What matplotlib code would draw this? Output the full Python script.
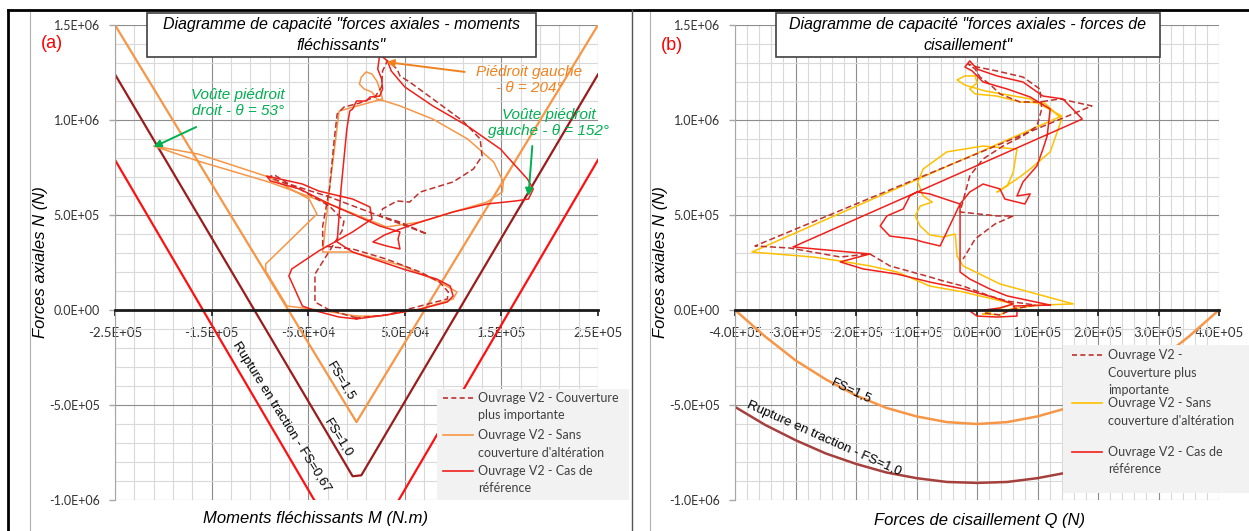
import numpy as np
import matplotlib
matplotlib.use("Agg")
import matplotlib.pyplot as plt
import matplotlib.ticker as mticker
from matplotlib.patches import Rectangle

plt.rcParams['font.family'] = ['Lato', 'DejaVu Sans']

# ---------------- (a) forces axiales - moments flechissants (kN.m, kN) ----------------
m_fs067 = [-250, 0, 250]
n_fs067 = [790, -1380, 790]
m_fs10 = [-250, -4, 5, 250]
n_fs10 = [1240, -875, -870, 1240]
m_fs15 = [-250, 0, 250]
n_fs15 = [1500, -590, 1500]

# Ouvrage V2 - Sans couverture d'alteration
m_sans = [0, 24, 66, 100, 104, 86, 48, -4, -35, -28, -18, 27, 24, 21, 16, 10, 5, 3, 8, 16,
          21, 29, 45, 79, 115, 142, 152, 151, 135, 100, 66, 31, -28, -91, -164, -210, -164, -91, -49, -41,
          -94, -94, -72, -39, 0]
n_sans = [-32, -32, 5, 58, 95, 147, 232, 305, 305, 637, 1047, 1111, 1163, 1205, 1242, 1253, 1226, 1189, 1163, 1147,
          1111, 1100, 1074, 1005, 900, 779, 674, 621, 568, 516, 463, 437, 558, 674, 784, 863, 821, 700, 584, 505,
          242, 205, 21, 0, -32]

# Ouvrage V2 - Cas de reference
m_ref = [0, -18, -42, -56, -70, -67, -39, -4, 16, 14, -4, -39, -56, -93, -89, -59, -28, 3, 24, 45,
         43, 45, 31, 17, 29, 45, 66, 100, 135, 165, 178, 183, 177, 149, 115, 79, 50, 36, 32, 27,
         24, 22, 26, 27, 24, 14, 10, 0, -4, -7, -10, -16, -20, -4, 48, 83, 97, 100, 94, 66, 31, 0]
n_ref = [-47, -37, -5, 21, 179, 216, 311, 411, 479, 542, 584, 626, 663, 705, 679, 637, 558, 489, 442, 411,
         374, 321, 337, 358, 395, 426, 463, 516, 558, 574, 584, 637, 689, 847, 968, 1074, 1174, 1258, 1311, 1332,
         1342, 1268, 1216, 1163, 1126, 1121, 1100, 1100, 1058, 1047, 953, 637, 358, 305, 216, 163, 126, 74, 42, 5,
         -26, -47]

# Ouvrage V2 - Couverture plus importante
m_couv = [0, -28, -43, -43, -15, -13, -28, -59, -91, -85, -70, -28, 73, 45, 24, 27, 42, 55, 66, 100,
          121, 130, 128, 110, 79, 55, 45, 42, 36, 32, 27, 26, 19, 3, -13, -20, -23, -28, -35, -35,
          -4, 31, 66, 86, 95, 94, 66, 31, 0]
n_couv = [-42, 0, 42, 189, 416, 468, 547, 637, 700, 711, 663, 595, 400, 463, 495, 532, 574, 568, 621, 674,
          742, 810, 900, 995, 1111, 1200, 1232, 1268, 1295, 1311, 1258, 1174, 1121, 1089, 1068, 1032, 900, 637, 442, 337,
          321, 268, 200, 147, 95, 58, 21, -26, -42]

# ---------------- (b) forces axiales - forces de cisaillement (kN, kN) ----------------
q_curve = [-400, -350, -300, -250, -200, -150, -100, -50, 0, 50, 100, 150, 200, 250, 300, 350, 400]
nq_fs15 = [0, -140, -265, -365, -450, -515, -560, -590, -600, -590, -560, -515, -450, -365, -265, -140, 0]
nq_fs10 = [-510, -605, -685, -755, -810, -855, -885, -905, -910, -905, -885, -855, -810, -755, -685, -605, -510]

q_sans = [10, 38, 55, 104, 159, 38, -23, -33, -36, -56, -78, -94, -102, -94, -74, -89, -98, -89, -50, 10,
          66, 60, 50, 33, 66, 88, 121, 140, 112, 71, 33, -3, -12, 0, -3, -20, -33, -20, 13, 88,
          140, -372, -271, -226, -177, -132, -78, -23, 26, 60, 21, 10]
nq_sans = [-21, -26, 5, 26, 32, 137, 232, 284, 400, 384, 395, 442, 495, 547, 568, 600, 674, 742, 832, 863,
           847, 726, 653, 621, 689, 742, 832, 1005, 1089, 1095, 1126, 1137, 1163, 1195, 1232, 1232, 1211, 1184, 1153, 1111,
           1021, 305, 279, 258, 232, 200, 126, 95, 58, 32, -11, -21]

q_ref = [121, 60, 66, 66, 33, 0, -12, 13, 38, 60, 26, -23, -78, -132, -188, -226, -177, -304, 174, 142,
         109, 76, 33, 0, -12, -20, -8, 10, 50, 88, 121, 116, 109, 99, 76, 66, 88, 79, 46, 38,
         10, -12, -28, -61, -89, -106, -144, -160, -149, -122, -111, -99, -78, -53, -28, -28, -28, -12, 21, 50, 121]
nq_ref = [26, 21, -5, -32, -37, -32, -5, 0, 11, 32, 68, 111, 147, 189, 216, 253, 295, 332, 1005, 1111,
          1126, 1200, 1232, 1268, 1311, 1279, 1258, 1200, 1163, 1121, 1058, 916, 847, 758, 674, 600, 611, 558, 584, 637,
          663, 621, 558, 337, 358, 374, 389, 442, 495, 532, 600, 621, 611, 584, 558, 321, 200, 163, 111, 74, 26]

q_couv = [13, 38, 60, 96, 50, 21, -23, -56, -78, -144, -177, -226, -309, -367, 190, 137, 104, 71, 38, 21,
          5, -3, -15, 0, 33, 76, 104, 107, 99, 76, 43, 10, -12, -20, -28, 33, 60, 30, -3, -23]
nq_couv = [-16, -26, 5, 26, 47, 74, 126, 153, 174, 232, 295, 279, 326, 337, 1074, 1111, 1095, 1095, 1137, 1189,
           1226, 1268, 1295, 1279, 1258, 1226, 1163, 1058, 968, 916, 863, 795, 705, 611, 516, 495, 495, 453, 374, 268]

k = 1e3  # kN -> N

c_orange = '#f79646'
c_yellow = '#ffc000'
c_red = '#f0201a'
c_dash = '#c0302c'
c_dark = '#9b1c1c'
c_green = '#00b050'
c_label = '#f0821e'
arial = 'Liberation Sans'

fig = plt.figure(figsize=(12.49, 5.31), dpi=100)
W, H = 1249, 531
ax1 = fig.add_axes([115 / W, 1 - 500 / H, 483 / W, 475 / H])
ax2 = fig.add_axes([735 / W, 1 - 500 / H, 484 / W, 475 / H])


def style(ax, xmin, xmax, xmajor):
    ax.set_xlim(xmin, xmax)
    ax.set_ylim(-1e6, 1.5e6)
    ax.xaxis.set_major_locator(mticker.FixedLocator(xmajor))
    ax.xaxis.set_minor_locator(mticker.FixedLocator(np.arange(xmin, xmax + 1, 2e4)))
    ax.yaxis.set_major_locator(mticker.FixedLocator(np.arange(-1e6, 1.5e6 + 1, 5e5)))
    ax.yaxis.set_minor_locator(mticker.FixedLocator(np.arange(-1e6, 1.5e6 + 1, 1e5)))
    fmt = mticker.FuncFormatter(lambda v, p: f"{v:.1E}")
    ax.xaxis.set_major_formatter(fmt)
    ax.yaxis.set_major_formatter(fmt)
    ax.grid(which='minor', color='#d9d9d9', lw=0.8)
    ax.grid(which='major', color='#8c8c8c', lw=0.8)
    ax.set_axisbelow(True)
    for s in ('top', 'right'):
        ax.spines[s].set_visible(False)
    ax.spines['bottom'].set_position(('data', 0))
    ax.spines['bottom'].set_color('#1a1a1a')
    ax.spines['bottom'].set_linewidth(2)
    ax.spines['bottom'].set_zorder(4)
    ax.spines['left'].set_color('#a6a6a6')
    ax.tick_params(which='minor', length=0)
    ax.tick_params(axis='x', which='major', direction='out', length=4, width=1.2,
                   color='#1a1a1a', pad=8.5, labelsize=9.5, labelcolor='#333333')
    ax.tick_params(axis='y', which='major', direction='out', length=4, width=1,
                   color='#a6a6a6', pad=7, labelsize=9, labelcolor='#333333')
    ax.patch.set_alpha(0)


style(ax1, -2.5e5, 2.5e5, [-2.5e5, -1.5e5, -5e4, 5e4, 1.5e5, 2.5e5])
style(ax2, -4e5, 4e5, np.arange(-4e5, 4e5 + 1, 1e5))

# panel (a)
ax1.plot(np.array(m_fs067) * k, np.array(n_fs067) * k, color='#ff1010', lw=1.6)
ax1.plot(np.array(m_fs10) * k, np.array(n_fs10) * k, color=c_dark, lw=1.6)
ax1.plot(np.array(m_fs15) * k, np.array(n_fs15) * k, color=c_orange, lw=1.6)
ax1.plot(np.array(m_sans) * k, np.array(n_sans) * k, color=c_orange, lw=1.1)
ax1.plot(np.array(m_couv) * k, np.array(n_couv) * k, color=c_dash, lw=1.1, ls=(0, (4, 2)))
ax1.plot(np.array(m_ref) * k, np.array(n_ref) * k, color=c_red, lw=1.1)

ax1.text(-78e3, -563e3, 'Rupture en traction - FS=0,67', rotation=-58, ha='center', va='center',
         rotation_mode='anchor', fontsize=9.5, family=arial)
ax1.text(-19e3, -674e3, 'FS=1,0', rotation=-58, ha='center', va='center',
         rotation_mode='anchor', fontsize=9.5, family=arial)
ax1.text(-16e3, -374e3, 'FS=1,5', rotation=-59, ha='center', va='center',
         rotation_mode='anchor', fontsize=9.5, family=arial)

arrow_g = dict(arrowstyle='-|>', color=c_green, lw=1.4, mutation_scale=11, shrinkA=0, shrinkB=0)
arrow_o = dict(arrowstyle='-|>', color=c_label, lw=1.4, mutation_scale=11, shrinkA=0, shrinkB=0)
ax1.text(-123e3, 1089e3, 'Voûte piédroit\ndroit - θ = 53°', color=c_green, ha='center', va='center',
         fontsize=11, style='italic', family=arial, linespacing=1.2)
ax1.annotate('', xy=(-210e3, 858e3), xytext=(-166e3, 963e3), arrowprops=arrow_g)
ax1.text(179e3, 1210e3, 'Piédroit gauche\n- θ = 204°', color=c_label, ha='center', va='center',
         fontsize=11, style='italic', family=arial, linespacing=1.2)
ax1.annotate('', xy=(31e3, 1305e3), xytext=(112e3, 1253e3), arrowprops=arrow_o)
ax1.text(199e3, 984e3, 'Voûte piédroit\ngauche - θ = 152°', color=c_green, ha='center', va='center',
         fontsize=11, style='italic', family=arial, linespacing=1.2)
ax1.annotate('', xy=(178e3, 600e3), xytext=(182e3, 863e3), arrowprops=arrow_g)

# panel (b)
ax2.plot(np.array(q_curve) * k, np.array(nq_fs15) * k, color=c_orange, lw=1.8)
ax2.plot(np.array(q_curve) * k, np.array(nq_fs10) * k, color='#a5403c', lw=1.8)
ax2.plot(np.array(q_sans) * k, np.array(nq_sans) * k, color=c_yellow, lw=1.1)
ax2.plot(np.array(q_couv) * k, np.array(nq_couv) * k, color=c_dash, lw=1.1, ls=(0, (4, 2)))
ax2.plot(np.array(q_ref) * k, np.array(nq_ref) * k, color=c_red, lw=1.1)

ax2.text(-207e3, -426e3, 'FS=1,5', rotation=-25, ha='center', va='center',
         rotation_mode='anchor', fontsize=9.5, family=arial)
ax2.text(-253e3, -679e3, 'Rupture en traction - FS=1,0', rotation=-24, ha='center', va='center',
         rotation_mode='anchor', fontsize=9.5, family=arial)

# overlay in pixel units for frames, boxes and legends
ov = fig.add_axes([0, 0, 1, 1], zorder=10)
ov.set_xlim(0, W)
ov.set_ylim(H, 0)
ov.axis('off')

ov.plot([8, 8], [10, H], color='black', lw=2)
ov.plot([8, W], [10, 10], color='black', lw=2)
ov.plot([632, 632], [10, H], color='#555555', lw=1)
ov.plot([30, 30], [12, H], color='#b0b0b0', lw=0.8)
ov.plot([650, 650], [12, H], color='#b0b0b0', lw=0.8)

# title boxes
for x0, w, l1, l2 in [(147, 389, 'Diagramme de capacité "forces axiales - moments', 'fléchissants"'),
                      (776, 384, 'Diagramme de capacité "forces axiales - forces de', 'cisaillement"')]:
    ov.add_patch(Rectangle((x0, 13), w, 44, facecolor='white', edgecolor='#404040', lw=1.2))
    ov.text(x0 + w / 2, 25, l1, ha='center', va='center', fontsize=11.5, style='italic', family=arial)
    ov.text(x0 + w / 2, 46, l2, ha='center', va='center', fontsize=11.5, style='italic', family=arial)

ov.text(52, 43, '(a)', color='#ff0000', fontsize=13, ha='center', va='center', family=arial)
ov.text(672, 45, '(b)', color='#ff0000', fontsize=13, ha='center', va='center', family=arial)

ov.text(41, 262, 'Forces axiales N (N)', rotation=90, ha='center', va='center', fontsize=12,
        style='italic', family=arial)
ov.text(661, 262, 'Forces axiales N (N)', rotation=90, ha='center', va='center', fontsize=12,
        style='italic', family=arial)
ov.text(316, 518, 'Moments fléchissants M (N.m)', ha='center', va='center', fontsize=12,
        style='italic', family=arial)
ov.text(980, 521, 'Forces de cisaillement Q (N)', ha='center', va='center', fontsize=12,
        style='italic', family=arial)

# legends
leg_fs = 9
ov.add_patch(Rectangle((437, 389), 192, 111, facecolor='#f2f2f2', edgecolor='none'))
ov.plot([443, 473], [398, 398], color=c_dash, lw=1.2, ls=(0, (3, 2)))
ov.plot([443, 473], [435, 435], color=c_orange, lw=1.2)
ov.plot([443, 473], [471, 471], color=c_red, lw=1.2)
for y, s in [(398, 'Ouvrage V2 - Couverture'), (415, 'plus importante'),
             (435, 'Ouvrage V2 - Sans'), (453, "couverture d'altération"),
             (471, 'Ouvrage V2 - Cas de'), (488, 'référence')]:
    ov.text(478, y, s, ha='left', va='center', fontsize=leg_fs, color='#404040')

ov.add_patch(Rectangle((1063, 345), 186, 148, facecolor='#f2f2f2', edgecolor='none'))
ov.plot([1072, 1102], [355, 355], color=c_dash, lw=1.2, ls=(0, (3, 2)))
ov.plot([1072, 1102], [403, 403], color=c_yellow, lw=1.2)
ov.plot([1072, 1102], [452, 452], color=c_red, lw=1.2)
for y, s in [(355, 'Ouvrage V2 -'), (373, 'Couverture plus'), (390, 'importante'),
             (403, 'Ouvrage V2 - Sans'), (421, "couverture d'altération"),
             (452, 'Ouvrage V2 - Cas de'), (469, 'référence')]:
    ov.text(1108, y, s, ha='left', va='center', fontsize=leg_fs, color='#404040')

fig.savefig('out.png', dpi=100)
